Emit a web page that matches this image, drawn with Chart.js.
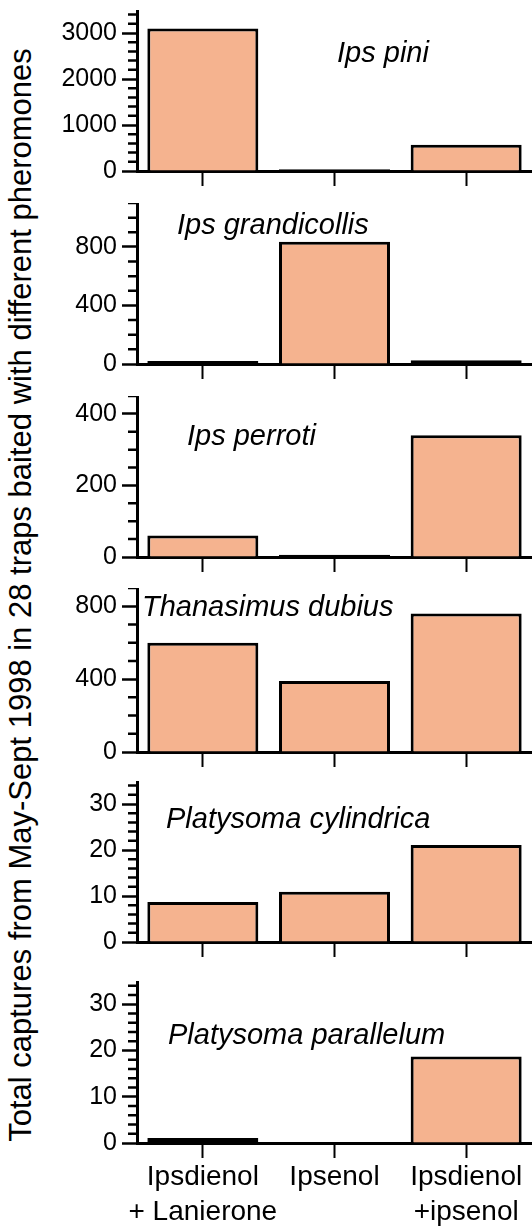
<!DOCTYPE html>
<html>
<head>
<meta charset="utf-8">
<script src="https://cdn.jsdelivr.net/npm/chart.js@4"></script>
<style>
  html, body { margin: 0; padding: 0; background: #fff; }
  #wrap { position: relative; width: 532px; height: 1228px; overflow: hidden; }
  #wrap canvas { position: absolute; left: 0; }
  #ytitle {
    position: absolute; left: -579px; top: 577px; width: 1200px; height: 36px;
    line-height: 36px; text-align: center; white-space: nowrap; color: #000;
    font: 31px 'Liberation Sans', Arial, sans-serif; transform: rotate(-90deg);
  }
</style>
</head>
<body>
<div id="wrap">
  <div id="ytitle">Total captures from May-Sept 1998 in 28 traps baited with different pheromones</div>
</div>
<script>
// ─── data ────────────────────────────────────────────────────────────────────
const treatments = [['Ipsdienol', '+ Lanierone'], 'Ipsenol', ['Ipsdienol', '+ipsenol']];
const species = ['Ips pini', 'Ips grandicollis', 'Ips perroti', 'Thanasimus dubius',
                 'Platysoma cylindrica', 'Platysoma parallelum'];

const ipsPini             = [3100, 40, 570];
const ipsGrandicollis     = [20, 835, 25];
const ipsPerroti          = [60, 6, 340];
const thanasimusDubius    = [600, 390, 760];
const platysomaCylindrica = [8.7, 10.9, 21.1];
const platysomaParallelum = [1.1, 0, 18.7];

const yMax   = [3500, 1100, 450, 900, 35, 35];
const yMajor = [1000, 400, 200, 400, 10, 10];
const yMinor = [200, 100, 50, 100, 2, 2];

const series = [ipsPini, ipsGrandicollis, ipsPerroti, thanasimusDubius, platysomaCylindrica, platysomaParallelum];

// ─── layout (page pixels) ────────────────────────────────────────────────────
const FONT = "'Liberation Sans', Arial, Helvetica, sans-serif";
const BAR_FILL = '#f5b38f';
const AXIS_LEFT = 137;
const LW = 3;
const PANELS = [
  { top: 10,  zero: 171,  label: { x: 383, y: 52, align: 'center' } },
  { top: 203, zero: 364,  label: { x: 177, y: 31, align: 'left' } },
  { top: 396, zero: 557,  label: { x: 187, y: 49, align: 'left' } },
  { top: 588, zero: 752,  label: { x: 142, y: 28, align: 'left' } },
  { top: 781, zero: 942,  label: { x: 166, y: 47, align: 'left' } },
  { top: 981, zero: 1143, label: { x: 168, y: 63, align: 'left' } },
];

Chart.defaults.font.family = FONT;
Chart.defaults.color = '#000';

// small ticks between the labelled ones
const minorTicks = {
  id: 'minorTicks',
  afterDraw(chart, args, o) {
    const s = chart.scales.y, ctx = chart.ctx;
    ctx.save();
    ctx.strokeStyle = '#000';
    ctx.lineWidth = 2.5;
    ctx.beginPath();
    for (let i = 1; i * o.step <= o.max + 1e-9; i++) {
      const v = i * o.step;
      if (Math.abs(v / o.major - Math.round(v / o.major)) < 1e-9) continue;
      const y = s.getPixelForValue(v);
      ctx.moveTo(s.right - 9, y);
      ctx.lineTo(s.right, y);
    }
    ctx.stroke();
    ctx.restore();
  },
};

// italic species name inside the plot
const speciesLabel = {
  id: 'speciesLabel',
  afterDraw(chart, args, o) {
    const ctx = chart.ctx;
    ctx.save();
    ctx.font = `italic 29px ${FONT}`;
    ctx.fillStyle = '#000';
    ctx.textAlign = o.align;
    ctx.textBaseline = 'alphabetic';
    ctx.fillText(o.text, o.x, o.y);
    ctx.restore();
  },
};

function makePanel(i) {
  const p = PANELS[i];
  const last = i === PANELS.length - 1;
  const xh = last ? 1228 - p.zero : 16;
  const major = yMajor[i];

  const cv = document.createElement('canvas');
  cv.width = 532;
  cv.height = p.zero - p.top + xh;
  cv.style.top = p.top + 'px';
  document.getElementById('wrap').appendChild(cv);

  new Chart(cv, {
    type: 'bar',
    data: {
      labels: treatments,
      datasets: [{
        data: series[i],
        backgroundColor: BAR_FILL,
        borderColor: '#000',
        borderWidth: LW,
        // very low bars keep their bottom edge so they read as a solid line
        borderSkipped: c => (c.raw / yMax[i] < 0.05 ? false : 'start'),
        barPercentage: 0.843,
        categoryPercentage: 1,
      }],
    },
    options: {
      responsive: false, animation: false, devicePixelRatio: 1,
      layout: { padding: 0 },
      plugins: {
        legend: { display: false },
        tooltip: { enabled: false },
        minorTicks: { step: yMinor[i], major, max: yMax[i] },
        speciesLabel: { text: species[i], ...p.label },
      },
      scales: {
        x: {
          offset: true, z: 1,
          grid: { drawOnChartArea: false, offset: false, tickLength: 15, tickWidth: 2, tickColor: '#000' },
          border: { color: '#000', width: LW },
          ticks: { display: last, padding: 2, maxRotation: 0, autoSkip: false, font: { size: 28, lineHeight: 1.25 } },
          afterFit: s => { s.height = xh; s.paddingLeft = 0; s.paddingRight = 0; },
        },
        y: {
          min: 0, max: yMax[i],
          ticks: { autoSkip: false, padding: 5, font: { size: 25 }, callback: v => String(v) },
          afterBuildTicks: s => {
            const t = [];
            for (let v = 0; v <= yMax[i] + 1e-9; v += major) t.push({ value: v });
            s.ticks = t;
          },
          grid: { drawOnChartArea: false, tickLength: 15, tickWidth: 2.5, tickColor: '#000' },
          border: { color: '#000', width: LW },
          afterFit: s => { s.width = AXIS_LEFT; s.paddingTop = 0; s.paddingBottom = 0; },
        },
      },
    },
    plugins: [minorTicks, speciesLabel],
  });
}

PANELS.forEach((_, i) => makePanel(i));
</script>
</body>
</html>
